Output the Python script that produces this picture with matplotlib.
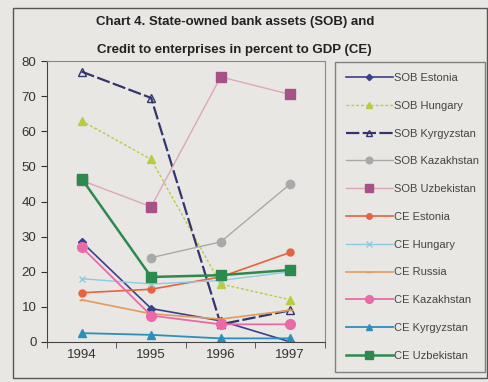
import matplotlib.pyplot as plt
from matplotlib.patches import Rectangle
import numpy as np

plt.rcParams['font.family'] = ['Liberation Sans', 'DejaVu Sans']

years = [1994, 1995, 1996, 1997]

sob_estonia = [28.5, 9.5, 6.0, 0.0]
sob_hungary = [63.0, 52.0, 16.5, 12.0]
sob_kyrgyzstan = [77.0, 69.5, 5.0, 9.0]
sob_kazakhstan = [np.nan, 24.0, 28.5, 45.0]
sob_uzbekistan = [46.0, 38.5, 75.5, 70.5]
ce_estonia = [14.0, 15.0, 18.5, 25.5]
ce_hungary = [18.0, 16.5, 17.5, 20.0]
ce_russia = [12.0, 8.0, 6.5, 9.0]
ce_kazakhstan = [27.0, 7.5, 5.0, 5.0]
ce_kyrgyzstan = [2.5, 2.0, 1.0, 1.0]
ce_uzbekistan = [46.5, 18.5, 19.0, 20.5]

bg = '#e8e7e3'
fig = plt.figure(figsize=(4.88, 3.82), dpi=100, facecolor=bg)
fig.patches.append(Rectangle((0.026, 0.010), 0.972, 0.970, transform=fig.transFigure,
                             fill=False, edgecolor='#555555', linewidth=1.0))

ax = fig.add_axes([0.096, 0.105, 0.570, 0.735], facecolor=bg)

series = [
    ('SOB Estonia', sob_estonia, dict(color='#3c3f8c', marker='D', ms=4, ls='-', lw=1.2)),
    ('SOB Hungary', sob_hungary, dict(color='#b8cc40', marker='^', ms=6, ls=(0, (2, 1.5)), lw=1.0)),
    ('SOB Kyrgyzstan', sob_kyrgyzstan, dict(color='#35356e', marker='^', ms=6, mfc='none', ls=(0, (6, 1.5)), lw=1.6)),
    ('SOB Kazakhstan', sob_kazakhstan, dict(color='#a9a9a9', marker='o', ms=6, ls='-', lw=1.0)),
    ('SOB Uzbekistan', sob_uzbekistan, dict(color='#dba8b8', mfc='#a65289', mec='#a65289', marker='s', ms=7, ls='-', lw=1.0)),
    ('CE Estonia', ce_estonia, dict(color='#e8623e', marker='o', ms=5, ls='-', lw=1.2)),
    ('CE Hungary', ce_hungary, dict(color='#8ccbe0', marker='x', ms=5, ls='-', lw=1.0)),
    ('CE Russia', ce_russia, dict(color='#e39a5e', marker='_', ms=5, ls='-', lw=1.2)),
    ('CE Kazakhstan', ce_kazakhstan, dict(color='#ea6aa8', marker='o', ms=7, ls='-', lw=1.3)),
    ('CE Kyrgyzstan', ce_kyrgyzstan, dict(color='#2b8fbc', marker='^', ms=6, ls='-', lw=1.3)),
    ('CE Uzbekistan', ce_uzbekistan, dict(color='#2c8a4e', marker='s', ms=7, ls='-', lw=1.8)),
]

lines = []
for name, vals, style in series:
    ln, = ax.plot(years, vals, label=name, **style)
    lines.append(ln)

ax.set_xlim(1993.5, 1997.5)
ax.set_ylim(0, 80)
ax.set_yticks(range(0, 81, 10))
ax.set_xticks(years)
ax.set_xticks([1993.5, 1994.5, 1995.5, 1996.5, 1997.5], minor=True)
ax.tick_params(axis='x', which='major', length=0, labelsize=9.5, colors='#333333', pad=5)
ax.tick_params(axis='x', which='minor', length=4, direction='out', color='#444444')
ax.tick_params(axis='y', length=4, labelsize=9.5, colors='#333333')
for side in ['top', 'right']:
    ax.spines[side].set_color('#888888')
    ax.spines[side].set_linewidth(0.8)
for side in ['left', 'bottom']:
    ax.spines[side].set_color('#444444')

fig.text(0.481, 0.942, 'Chart 4. State-owned bank assets (SOB) and',
         ha='center', va='center', fontsize=9.5, fontweight='bold', color='#222222')
fig.text(0.481, 0.869, 'Credit to enterprises in percent to GDP (CE)',
         ha='center', va='center', fontsize=9.5, fontweight='bold', color='#222222')

leg = fig.legend(handles=lines, loc='upper left', bbox_to_anchor=(0.686, 0.838, 0.308, 0.0),
                 mode='expand', fontsize=8, frameon=True, fancybox=False, edgecolor='#666666',
                 facecolor=bg, handlelength=4.2, labelspacing=1.6, borderpad=1.0,
                 handletextpad=0.1, borderaxespad=0, markerscale=0.8)
for t in leg.get_texts():
    t.set_color('#444444')

fig.savefig('out.png', dpi=100, facecolor=bg)
